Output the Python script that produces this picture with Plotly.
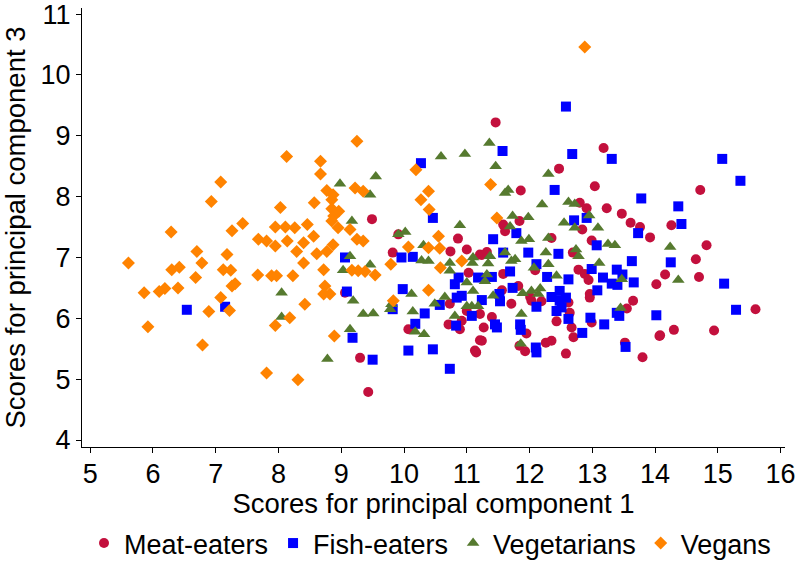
import plotly.graph_objects as go

# ---- data ----
meat_x = [9.49, 9.91, 10.86, 11.00, 9.82, 10.74, 11.21, 11.03, 9.06, 10.73, 11.21, 10.07, 10.71, 10.89, 11.21,
          11.13, 9.30, 9.43, 11.46, 13.18, 12.47, 11.86, 13.04, 12.80, 12.91, 13.23, 13.47, 13.61, 13.76, 13.92,
          11.58, 11.61, 11.84, 12.84, 12.99, 12.35, 11.24, 11.32, 12.69, 11.58, 12.09, 12.78, 12.88, 12.94, 11.82,
          11.56, 12.01, 12.03, 12.19, 11.71, 12.62, 12.64, 12.96, 12.96, 13.65, 13.55, 14.02, 11.00, 10.92, 11.40,
          11.27, 12.43, 12.67, 12.70, 12.99, 11.95, 11.24, 11.84, 11.93, 12.26, 12.35, 12.58, 11.15, 13.52, 13.80,
          14.07, 14.72, 14.26, 14.82, 14.65, 14.16, 14.70, 15.60, 14.08, 14.30, 14.94]
meat_y = [7.63, 7.38, 7.31, 7.13, 7.08, 7.10, 7.05, 6.75, 6.42, 6.24, 6.07, 5.82, 5.90, 5.82, 5.64,
          5.47, 5.35, 4.79, 9.22, 8.80, 8.46, 8.10, 8.17, 7.90, 7.81, 7.81, 7.72, 7.57, 7.50, 7.33,
          7.54, 7.43, 7.60, 7.46, 7.28, 7.32, 7.04, 7.09, 7.08, 6.73, 6.79, 6.80, 6.73, 6.63, 6.53,
          6.46, 6.35, 6.29, 6.28, 6.24, 6.26, 6.09, 6.40, 6.34, 6.29, 6.16, 6.56, 6.12, 5.96, 6.02,
          5.85, 5.95, 5.85, 5.69, 5.93, 5.75, 5.63, 5.55, 5.46, 5.60, 5.63, 5.42, 5.44, 5.60, 5.36,
          5.71, 8.11, 7.53, 7.20, 6.97, 6.72, 6.68, 6.15, 5.72, 5.81, 5.80]

fish_x = [6.54, 7.15, 10.27, 10.46, 9.06, 9.96, 10.14, 9.09, 9.98, 10.81, 10.87, 10.92, 10.84, 10.33, 10.57,
          10.18, 11.08, 10.83, 9.18, 10.07, 10.46, 9.50, 10.73, 12.58, 11.57, 12.68, 13.31, 12.40, 13.78, 12.71,
          12.91, 11.42, 11.79, 13.73, 13.07, 11.58, 11.98, 12.46, 12.11, 13.63, 11.69, 11.18, 11.40, 12.99, 12.28,
          12.62, 13.17, 13.39, 13.48, 13.31, 13.40, 13.66, 11.24, 11.53, 11.52, 11.73, 12.11, 12.35, 12.48, 12.48,
          12.58, 12.43, 12.51, 12.62, 13.08, 12.97, 13.19, 13.43, 13.39, 11.48, 11.45, 11.85, 11.86, 12.84, 12.10,
          12.11, 13.53, 14.02, 15.07, 15.36, 14.37, 14.42, 14.25, 15.10, 15.29, 9.82, 11.29]
fish_y = [6.14, 6.19, 8.55, 7.65, 7.00, 7.00, 7.01, 6.44, 6.48, 6.56, 6.67, 6.37, 6.34, 6.08, 6.22,
          5.91, 6.04, 5.88, 5.68, 5.47, 5.49, 5.32, 5.17, 9.48, 8.75, 8.70, 8.62, 8.11, 7.97, 7.61,
          7.65, 7.30, 7.40, 7.40, 7.20, 7.08, 7.08, 7.06, 6.89, 6.94, 6.77, 6.67, 6.68, 6.81, 6.68,
          6.64, 6.67, 6.80, 6.72, 6.57, 6.55, 6.59, 6.30, 6.28, 6.40, 6.50, 6.19, 6.35, 6.45, 6.29,
          6.34, 6.12, 6.18, 5.99, 6.46, 6.01, 5.90, 6.04, 6.09, 5.85, 5.90, 5.90, 5.81, 5.76, 5.52,
          5.44, 5.53, 6.05, 8.62, 8.26, 7.84, 7.55, 6.92, 6.57, 6.14, 6.15, 6.66]

veg_x = [8.05, 8.05, 8.98, 9.55, 9.46, 9.17, 10.59, 10.97, 10.89, 10.02, 9.91, 10.31, 10.39, 10.28, 11.10,
         10.73, 9.14, 9.03, 9.46, 9.19, 9.35, 9.51, 9.80, 9.78, 10.12, 10.14, 10.49, 10.65, 10.81, 11.08,
         9.14, 10.18, 10.32, 8.78, 11.36, 11.46, 12.30, 11.66, 11.61, 12.20, 12.62, 12.72, 12.95, 11.73, 11.69,
         11.98, 12.55, 12.72, 13.09, 12.30, 11.87, 11.99, 13.25, 13.36, 11.09, 11.37, 11.34, 11.61, 11.71, 11.77,
         12.26, 12.30, 12.74, 12.78, 13.11, 12.07, 11.32, 11.29, 11.00, 11.10, 11.42, 11.89, 12.03, 12.17, 12.14,
         12.43, 13.47, 11.00, 11.18, 11.87, 13.45, 11.86, 14.24, 14.37, 10.73]
veg_y = [6.42, 6.02, 8.21, 8.33, 8.03, 7.60, 8.66, 8.70, 7.53, 7.42, 7.38, 7.20, 6.94, 6.95, 7.00,
         6.91, 7.02, 6.79, 6.88, 6.29, 6.07, 6.08, 6.23, 6.15, 6.40, 6.11, 6.24, 6.35, 6.04, 6.20,
         5.82, 5.78, 5.74, 5.33, 8.88, 8.50, 8.37, 8.11, 8.06, 7.87, 7.91, 7.88, 7.69, 7.68, 7.51,
         7.66, 7.57, 7.49, 7.49, 7.32, 7.27, 7.30, 7.22, 7.20, 6.91, 7.02, 6.90, 7.08, 6.94, 6.97,
         7.08, 6.89, 7.13, 7.02, 6.91, 6.83, 6.72, 6.61, 6.59, 6.45, 6.37, 6.41, 6.45, 6.49, 6.40,
         6.70, 6.64, 6.20, 6.20, 6.07, 6.17, 5.58, 7.17, 6.63, 6.78]

vegan_x = [8.13, 7.08, 6.93, 8.03, 6.29, 7.43, 7.26, 7.68, 7.81, 7.95, 7.95, 8.11, 8.26, 8.14, 8.29,
           6.70, 7.18, 5.61, 6.78, 6.30, 6.42, 7.12, 7.24, 7.67, 7.89, 7.97, 8.23, 6.68, 7.26, 7.31,
           6.40, 6.19, 6.10, 5.86, 7.08, 6.89, 7.22, 8.18, 7.95, 5.92, 6.79, 7.81, 8.31, 9.25, 8.67,
           8.67, 8.77, 8.87, 9.22, 9.35, 8.57, 8.85, 8.85, 8.88, 8.85, 8.95, 9.14, 8.46, 8.56, 8.40,
           8.87, 9.25, 9.35, 8.77, 8.61, 8.40, 8.72, 9.17, 9.27, 9.38, 9.54, 10.19, 10.39, 10.27, 10.40,
           10.07, 10.39, 10.55, 10.57, 9.79, 10.58, 10.92, 8.74, 8.82, 8.72, 10.39, 9.83, 8.42, 8.89, 11.38,
           11.48, 12.88, 8.96]
vegan_y = [8.66, 8.24, 7.92, 7.82, 7.42, 7.56, 7.44, 7.30, 7.27, 7.19, 7.50, 7.50, 7.49, 7.27, 7.10,
           7.10, 7.05, 6.91, 6.91, 6.80, 6.84, 6.80, 6.79, 6.71, 6.70, 6.70, 6.70, 6.67, 6.53, 6.57,
           6.50, 6.49, 6.44, 6.42, 6.34, 6.11, 6.13, 6.01, 5.88, 5.86, 5.56, 5.10, 4.99, 8.91, 8.58,
           8.37, 8.10, 8.03, 8.14, 8.09, 7.90, 7.95, 7.80, 7.68, 7.60, 7.49, 7.46, 7.54, 7.35, 7.24,
           7.21, 7.30, 7.27, 7.10, 7.06, 6.91, 6.80, 6.79, 6.78, 6.77, 6.71, 8.44, 8.09, 7.95, 7.79,
           7.17, 7.16, 7.35, 7.15, 6.89, 6.83, 6.94, 6.53, 6.40, 6.40, 6.46, 6.29, 6.23, 5.71, 8.20,
           7.65, 10.46, 7.76]

x_ticks = list(range(5, 17))
y_ticks = list(range(4, 12))

FONT = "Liberation Sans, Arial, sans-serif"

groups = [
    ("Meat-eaters", meat_x, meat_y, "circle", "#C3103D", 10),
    ("Fish-eaters", fish_x, fish_y, "square", "#0000FF", 10),
    ("Vegetarians", veg_x, veg_y, "triangle-up", "#567A2F", 11),
    ("Vegans", vegan_x, vegan_y, "diamond", "#FF8300", 10),
]

fig = go.Figure()
for name, xs, ys, sym, col, sz in groups:
    fig.add_trace(go.Scatter(
        x=xs, y=ys, mode="markers", name=name,
        marker=dict(symbol=sym, color=col, size=sz, line=dict(width=0)),
    ))

fig.update_layout(
    width=797, height=568,
    margin=dict(l=82, r=12, t=8, b=121),
    paper_bgcolor="white", plot_bgcolor="white",
    font=dict(family=FONT, size=27, color="black"),
    showlegend=True,
    legend=dict(orientation="h", x=0.495, xanchor="center",
                yref="container", y=0.0, yanchor="bottom",
                font=dict(size=27), itemwidth=30, tracegroupgap=0,
                bgcolor="rgba(0,0,0,0)"),
    xaxis=dict(range=[4.87, 16.07], tickvals=x_ticks, ticks="outside", ticklen=5,
               tickcolor="black", showline=True, linecolor="black", linewidth=1,
               showgrid=False, zeroline=False, tickfont=dict(size=27),
               ticklabeloverflow="allow", automargin=False, ticklabelstandoff=-2,
               title=dict(text="Scores for principal component 1", font=dict(size=27.5), standoff=8)),
    yaxis=dict(range=[3.885, 11.1], tickvals=y_ticks, ticks="outside", ticklen=5,
               tickcolor="black", showline=True, linecolor="black", linewidth=1,
               showgrid=False, zeroline=False, tickfont=dict(size=27),
               ticklabeloverflow="allow", automargin=False,
               title=dict(text="Scores for principal component 3", font=dict(size=27.5), standoff=7)),
)

fig.write_html("out.html", config={"displayModeBar": False},
               post_script="document.body.style.margin='0';")
